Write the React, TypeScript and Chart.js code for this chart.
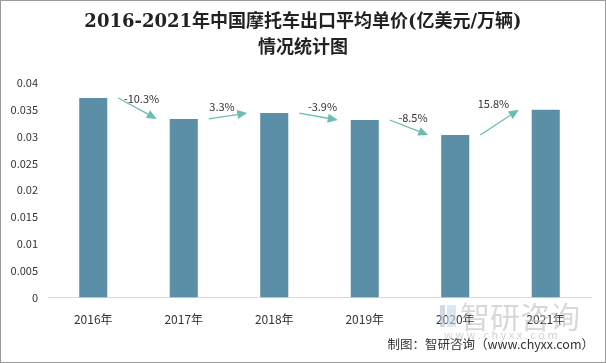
import React, { useEffect, useRef } from "react";
import { Chart, registerables } from "chart.js";

Chart.register(...registerables);

const categories = ["2016年", "2017年", "2018年", "2019年", "2020年", "2021年"];
const prices = [0.0372, 0.0333, 0.0344, 0.0331, 0.0303, 0.0350];
const growthLabels = ["-10.3%", "3.3%", "-3.9%", "-8.5%", "15.8%"];
const yTicks = [0, 0.005, 0.01, 0.015, 0.02, 0.025, 0.03, 0.035, 0.04];

const TITLE1 = "2016-2021年中国摩托车出口平均单价(亿美元/万辆)";
const TITLE2 = "情况统计图";
const SOURCE = "制图：智研咨询（www.chyxx.com）";

const SANS = "'Microsoft YaHei', 'Noto Sans CJK SC', 'Open Sans', sans-serif";
const SERIF = "'DejaVu Serif', 'Liberation Serif', 'Noto Sans CJK SC', serif";

const arrowPlugin = {
  id: "growthArrows",
  afterDatasetsDraw(chart: any) {
    const ctx = chart.ctx;
    const x = chart.scales.x;
    const y = chart.scales.y;
    ctx.save();
    const color = "#6bbdb4";
    for (let i = 0; i < prices.length - 1; i++) {
      const x1 = x.getPixelForValue(i) + 25;
      const y1 = y.getPixelForValue(prices[i]);
      const x2 = x.getPixelForValue(i + 1) - 27;
      const y2 = y.getPixelForValue(prices[i + 1]);
      const ang = Math.atan2(y2 - y1, x2 - x1);
      const headLen = 10;
      const headW = 4.5;
      const bx = x2 - headLen * Math.cos(ang);
      const by = y2 - headLen * Math.sin(ang);
      ctx.strokeStyle = color;
      ctx.lineWidth = 1.3;
      ctx.beginPath();
      ctx.moveTo(x1, y1);
      ctx.lineTo(bx, by);
      ctx.stroke();
      ctx.fillStyle = color;
      ctx.beginPath();
      ctx.moveTo(x2, y2);
      ctx.lineTo(bx + headW * Math.sin(ang), by - headW * Math.cos(ang));
      ctx.lineTo(bx - headW * Math.sin(ang), by + headW * Math.cos(ang));
      ctx.closePath();
      ctx.fill();
      ctx.fillStyle = "#333333";
      ctx.font = `11px ${SANS}`;
      ctx.textAlign = "center";
      ctx.textBaseline = "middle";
      const rising = y2 < y1;
      const mx = (x1 + x2) / 2 + (rising ? -6 : 4);
      const my = rising ? Math.min(y1, y2) - 6 : (y1 + y2) / 2 - 10;
      ctx.fillText(growthLabels[i], mx, my);
    }
    ctx.restore();
  },
};

const decorPlugin = {
  id: "decor",
  beforeDatasetsDraw(chart: any) {
    const ctx = chart.ctx;
    ctx.save();
    // watermark
    ctx.fillStyle = "rgba(170,185,205,0.55)";
    ctx.fillRect(440, 305, 5, 22);
    ctx.fillStyle = "rgba(195,215,235,0.6)";
    ctx.fillRect(447, 305, 9, 22);
    ctx.fillStyle = "rgba(190,190,190,0.6)";
    ctx.font = `30px ${SANS}`;
    ctx.textAlign = "left";
    ctx.textBaseline = "middle";
    ctx.fillText("智研咨询", 460, 317);
    ctx.font = `11px ${SANS}`;
    ctx.fillStyle = "rgba(180,180,180,0.6)";
    const wm = "w w w . c h y x x . c o m";
    ctx.fillText(wm, 444, 335);
    ctx.restore();
  },
  afterDraw(chart: any) {
    const ctx = chart.ctx;
    ctx.save();
    ctx.fillStyle = "#222222";
    ctx.textAlign = "center";
    ctx.textBaseline = "middle";
    ctx.font = `bold 18px ${SERIF}`;
    ctx.fillText(TITLE1, 303, 22);
    ctx.fillText(TITLE2, 303, 48);
    ctx.font = `12.5px ${SANS}`;
    ctx.fillStyle = "#333333";
    ctx.textAlign = "right";
    ctx.fillText(SOURCE, 594, 344);
    ctx.restore();
  },
};

export default function App() {
  const ref = useRef<HTMLCanvasElement | null>(null);
  useEffect(() => {
    if (!ref.current) return;
    const chart = new Chart(ref.current, {
      type: "bar",
      data: {
        labels: categories,
        datasets: [
          {
            data: prices,
            backgroundColor: "#5b8fa8",
            barPercentage: 0.62,
            categoryPercentage: 0.5,
          },
        ],
      },
      options: {
        animation: false,
        responsive: false,
        maintainAspectRatio: false,
        layout: { padding: { top: 83, right: 15, bottom: 21, left: 0 } },
        plugins: {
          legend: { display: false },
          title: { display: false },
          tooltip: { enabled: false },
        },
        scales: {
          x: {
            grid: { display: false, drawTicks: false },
            border: { display: true, color: "#d9d9d9" },
            ticks: {
              padding: 15,
              color: "#333333",
              font: { size: 12, family: SANS },
            },
          },
          y: {
            min: 0,
            max: 0.04,
            afterFit(scale: any) {
              scale.width = 48;
            },
            afterBuildTicks(scale: any) {
              scale.ticks = yTicks.map((v) => ({ value: v }));
            },
            grid: { display: false, drawTicks: false },
            border: { display: false },
            ticks: {
              padding: 10,
              color: "#333333",
              font: { size: 11, family: SANS },
              callback: (v: any) => String(Number(v)),
            },
          },
        },
      },
      plugins: [decorPlugin, arrowPlugin],
    });
    return () => chart.destroy();
  }, []);
  return (
    <div
      style={{
        position: "fixed",
        left: 0,
        top: 0,
        width: 606,
        height: 363,
        background: "#ffffff",
        boxSizing: "border-box",
      }}
    >
      <canvas ref={ref} width={606} height={363} style={{ display: "block" }} />
      <div
        style={{
          position: "absolute",
          inset: 0,
          border: "1px solid #9a9a9a",
          pointerEvents: "none",
        }}
      />
    </div>
  );
}
